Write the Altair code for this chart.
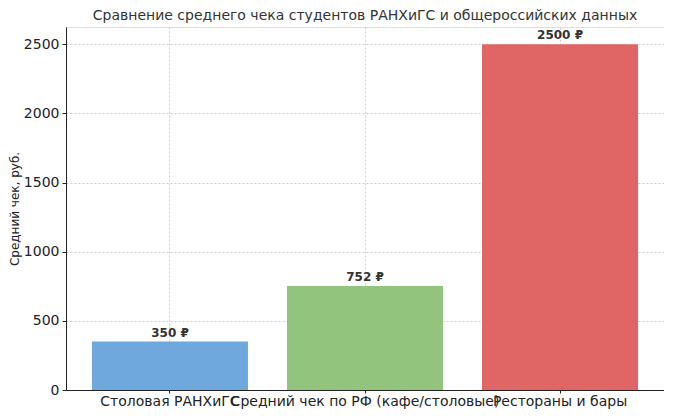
import altair as alt
import pandas as pd

categories = ["Столовая РАНХиГС", "Средний чек по РФ (кафе/столовые)", "Рестораны и бары"]
values = [350, 752, 2500]
colors = ["#6fa8dc", "#93c47d", "#e06666"]
labels = ["350 ₽", "752 ₽", "2500 ₽"]

df = pd.DataFrame({"cat": categories, "val": values, "color": colors, "label": labels})

FONT = "DejaVu Sans"

x = alt.X("cat:N", sort=categories, title=None,
          scale=alt.Scale(paddingInner=0.2, paddingOuter=0.133),
          axis=alt.Axis(labelAngle=0, labelFontSize=14, labelColor="#222", labelFont=FONT,
                        grid=True, gridDash=[2, 2], gridColor="#cccccc",
                        domainColor="#222", tickColor="#222", tickSize=3, labelPadding=1,
                        labelOverlap=False, labelLimit=400))
y = alt.Y("val:Q", title="Средний чек, руб.",
          scale=alt.Scale(domain=[0, 2625], nice=False),
          axis=alt.Axis(values=[0, 500, 1000, 1500, 2000, 2500], format="d",
                        labelFontSize=14, labelColor="#222",
                        labelFont=FONT, titleFont=FONT, titleFontSize=12, titleFontWeight="normal",
                        titleColor="#222", titlePadding=2,
                        grid=True, gridDash=[2, 2], gridColor="#cccccc",
                        domainColor="#222", tickColor="#222", tickSize=4, labelPadding=3))

bars = alt.Chart(df).mark_bar().encode(
    x=x, y=y, color=alt.Color("color:N", scale=None)
)
text = alt.Chart(df).mark_text(dy=-9, fontWeight="bold", fontSize=12, font=FONT, color="#333").encode(
    x=alt.X("cat:N", sort=categories), y="val:Q", text="label:N"
)

chart = (bars + text).properties(
    width=598, height=363,
    title=alt.Title("Сравнение среднего чека студентов РАНХиГС и общероссийских данных",
                    fontSize=14, font=FONT, fontWeight="normal", color="#333", offset=4),
    autosize=alt.AutoSizeParams(type="none"),
    padding={"left": 58, "top": 19, "right": 0, "bottom": 25},
).configure_view(strokeWidth=0).configure(background="white")

chart.save("out.html", embed_options={"renderer": "svg", "actions": False})
